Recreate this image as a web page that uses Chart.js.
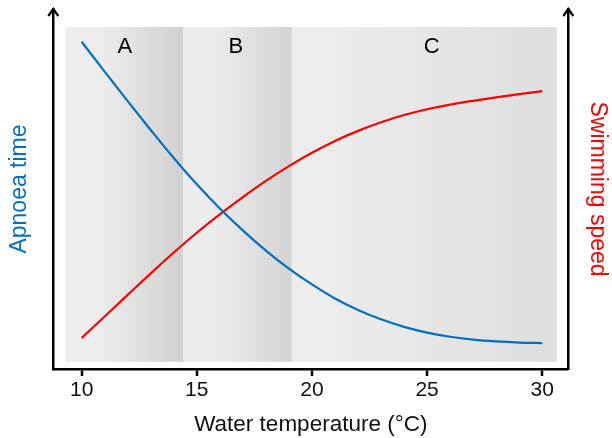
<!DOCTYPE html>
<html><head><meta charset="utf-8">
<script src="https://cdn.jsdelivr.net/npm/chart.js@4/dist/chart.umd.min.js"></script>
<style>html,body{margin:0;padding:0;background:#fff}#wrap{width:612px;height:438px}</style>
</head><body><div id="wrap"><canvas id="c" width="612" height="438"></canvas></div>
<script>
const temperatures = [10,11,12,13,14,15,16,17,18,19,20,21,22,23,24,25,26,27,28,29,30];
const apnoeaTime = [90.9,82.6,74.4,66.4,58.6,51.3,44.6,38.5,32.9,27.9,23.5,19.6,16.4,13.8,11.7,10.1,8.95,8.15,7.65,7.35,7.2];
const swimmingSpeed = [8.6,14.6,20.6,26.55,32.35,37.85,42.95,47.75,52.25,56.35,60.05,63.35,66.15,68.55,70.55,72.15,73.45,74.5,75.45,76.35,77.2];
const xTicks = [10,15,20,25,30];
const zoneNames = ['A','B','C'];
const zoneEdges = [9.29,14.42,19.13,30.63];
const zoneLabelX = [11.88,16.7,25.2];

const FONT = "'Liberation Sans', Arial, Helvetica, sans-serif";

const zonesPlugin = {
  id: 'zones',
  beforeDatasetsDraw(chart) {
    const {ctx, scales: {x, y}} = chart;
    const top = y.getPixelForValue(95), bot = y.getPixelForValue(2);
    const stops = [['#ededed','#d0d0d0'],['#ececec','#d3d3d3'],['#ededed','#dedede']];
    ctx.save();
    for (let i = 0; i < zoneNames.length; i++) {
      const x0 = x.getPixelForValue(zoneEdges[i]), x1 = x.getPixelForValue(zoneEdges[i+1]);
      const g = ctx.createLinearGradient(x0, 0, x1, 0);
      g.addColorStop(0, stops[i][0]);
      g.addColorStop(i === 2 ? 0.1 : 0.3, stops[i][0]);
      g.addColorStop(1, stops[i][1]);
      ctx.fillStyle = g;
      ctx.fillRect(x0, top, x1 - x0, bot - top);
      ctx.fillStyle = '#000';
      ctx.font = '22px ' + FONT;
      ctx.textAlign = 'center';
      ctx.textBaseline = 'middle';
      ctx.fillText(zoneNames[i], x.getPixelForValue(zoneLabelX[i]), y.getPixelForValue(89.4));
    }
    ctx.restore();
  }
};

const arrowPlugin = {
  id: 'arrows',
  afterDraw(chart) {
    const {ctx, chartArea} = chart;
    ctx.save();
    ctx.strokeStyle = '#000';
    ctx.lineWidth = 2.2;
    ctx.lineCap = 'butt';
    ctx.lineJoin = 'miter';
    for (const xp of [chartArea.left, chartArea.right]) {
      ctx.beginPath();
      ctx.moveTo(xp - 5, chartArea.top + 7);
      ctx.lineTo(xp, chartArea.top);
      ctx.lineTo(xp + 5, chartArea.top + 7);
      ctx.stroke();
    }
    ctx.restore();
  }
};

new Chart(document.getElementById('c'), {
  type: 'line',
  data: {
    datasets: [
      { label: 'Apnoea time', data: temperatures.map((t,i)=>({x:t,y:apnoeaTime[i]})),
        borderColor: '#0070C0', borderWidth: 2.2, pointRadius: 0, cubicInterpolationMode: 'monotone', yAxisID: 'y', fill: false },
      { label: 'Swimming speed', data: temperatures.map((t,i)=>({x:t,y:swimmingSpeed[i]})),
        borderColor: '#FF0000', borderWidth: 2.2, pointRadius: 0, cubicInterpolationMode: 'monotone', yAxisID: 'y2', fill: false }
    ]
  },
  options: {
    responsive: false,
    animation: false,
    events: [],
    layout: { padding: { top: 9, left: 0, right: 0, bottom: 0 } },
    plugins: { legend: { display: false }, tooltip: { enabled: false } },
    scales: {
      x: {
        type: 'linear', position: 'bottom', min: 8.77, max: 31.13,
        afterBuildTicks: s => { s.ticks = xTicks.map(v => ({ value: v })); },
        afterFit: s => { s.height = 69; },
        ticks: { font: { size: 21, family: FONT }, color: '#111', padding: 2, maxRotation: 0, autoSkip: false },
        grid: { display: true, drawOnChartArea: false, drawTicks: true, tickLength: 7, tickWidth: 2.5, tickColor: '#000', lineWidth: 0 },
        border: { display: true, color: '#000', width: 2.5 },
        title: { display: true, text: 'Water temperature (°C)', color: '#111', font: { size: 22.5, family: FONT }, padding: { top: 0, bottom: 0 } }
      },
      y: {
        position: 'left', min: 0, max: 100,
        afterFit: s => { s.width = 53.3; },
        ticks: { display: false },
        grid: { display: false, drawTicks: false },
        border: { display: true, color: '#000', width: 2.5 },
        title: { display: true, text: 'Apnoea time', color: '#0070C0', font: { size: 23, family: FONT }, padding: { top: 6, bottom: 0 } }
      },
      y2: {
        position: 'right', min: 0, max: 100,
        afterFit: s => { s.width = 43.7; },
        ticks: { display: false },
        grid: { display: false, drawTicks: false },
        border: { display: true, color: '#000', width: 2.5 },
        title: { display: true, text: 'Swimming speed', color: '#FF0000', font: { size: 23, family: FONT }, padding: { top: 1, bottom: 0 } }
      }
    }
  },
  plugins: [zonesPlugin, arrowPlugin]
});
</script></body></html>
